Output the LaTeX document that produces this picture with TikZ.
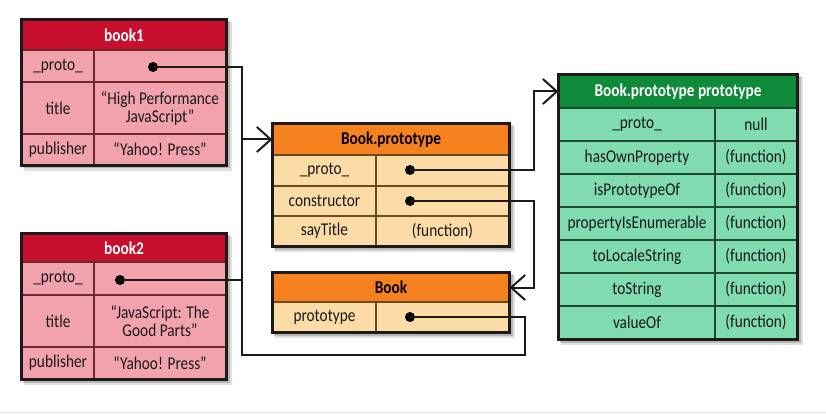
\documentclass[tikz,border=0pt]{standalone}
\usepackage{fontspec}
\setmainfont[FakeStretch=0.85]{Carlito}
\usetikzlibrary{arrows.meta}
\definecolor{redH}{HTML}{C8102E}
\definecolor{redF}{HTML}{F2A2AC}
\definecolor{redL}{HTML}{6E2A2A}
\definecolor{orH}{HTML}{F5821F}
\definecolor{orF}{HTML}{FCDCA6}
\definecolor{orL}{HTML}{6E4A1E}
\definecolor{grH}{HTML}{0E8A3A}
\definecolor{grF}{HTML}{80DCB0}
\definecolor{grL}{HTML}{1E4A30}
\definecolor{edge}{HTML}{1E1A1A}
\newcommand{\cellbox}[7]{\node[#1, minimum width={(#4-#2)*1pt}, minimum height={(#5-#3)*1pt}] (#6) at ({(#2+#4)/2},{(#3+#5)/2}) {#7};}
\newcommand{\shadowbox}[4]{%
  \fill[black, opacity=0.12] (#1+2,#2+2) rectangle (#3+6,#4+6);
  \fill[black, opacity=0.18] (#1+1,#2+1) rectangle (#3+3.5,#4+3.5);}
\begin{document}
\begin{tikzpicture}[x=1pt,y=-1pt,
  every node/.style={font=\fontsize{18}{18}\selectfont},
  cellbase/.style={line width=1.3pt, inner sep=0pt, align=center, text=black!90},
  rc/.style={cellbase, draw=redL, fill=redF},
  rh/.style={rc, fill=redH, text=white, font=\fontsize{18}{18}\selectfont\bfseries},
  oc/.style={cellbase, draw=orL, fill=orF},
  oh/.style={oc, fill=orH, text=black, font=\fontsize{18}{18}\selectfont\bfseries},
  gc/.style={cellbase, draw=grL, fill=grF},
  gh/.style={gc, fill=grH, text=white, font=\fontsize{18}{18}\selectfont\bfseries},
  frame/.style={draw=edge, line width=2.6pt},
  dot/.style={circle, fill=black, inner sep=0pt, minimum size=10pt},
  conn/.style={draw=edge, line width=2pt},
  arr/.style={conn, -{Straight Barb[length=14pt,width=25pt,line width=2pt]}}
]
\useasboundingbox[fill=white] (0,0) rectangle (826,414);
\draw[black!12, line width=0.8pt] (0,412.5) -- (826,412.5);

% ---------- shadows
\shadowbox{22}{20}{226}{165}
\shadowbox{22}{234}{226}{379}
\shadowbox{273}{124}{509}{246}
\shadowbox{273}{273}{509}{332}
\shadowbox{559}{75}{797}{339}

% ---------- book1
\cellbox{rh}{22}{20}{226}{50}{b1h}{book1}
\cellbox{rc}{22}{50}{94}{82}{b1k1}{\_proto\_}
\cellbox{rc}{94}{50}{226}{82}{b1v1}{}
\cellbox{rc}{22}{82}{94}{134}{b1k2}{title}
\cellbox{rc}{94}{82}{226}{134}{b1v2}{“High Performance\\JavaScript”}
\cellbox{rc}{22}{134}{94}{165}{b1k3}{publisher}
\cellbox{rc}{94}{134}{226}{165}{b1v3}{“Yahoo! Press”}
\draw[frame] (b1h.north west) rectangle (b1v3.south east);

% ---------- book2
\cellbox{rh}{22}{234}{226}{262}{b2h}{book2}
\cellbox{rc}{22}{262}{94}{295}{b2k1}{\_proto\_}
\cellbox{rc}{94}{262}{226}{295}{b2v1}{}
\cellbox{rc}{22}{295}{94}{347}{b2k2}{title}
\cellbox{rc}{94}{295}{226}{347}{b2v2}{“JavaScript: The\\Good Parts”}
\cellbox{rc}{22}{347}{94}{379}{b2k3}{publisher}
\cellbox{rc}{94}{347}{226}{379}{b2v3}{“Yahoo! Press”}
\draw[frame] (b2h.north west) rectangle (b2v3.south east);

% ---------- Book.prototype
\cellbox{oh}{273}{124}{509}{155}{bph}{Book.prototype}
\cellbox{oc}{273}{155}{376}{186}{bpk1}{\_proto\_}
\cellbox{oc}{376}{155}{509}{186}{bpv1}{}
\cellbox{oc}{273}{186}{376}{216}{bpk2}{constructor}
\cellbox{oc}{376}{186}{509}{216}{bpv2}{}
\cellbox{oc}{273}{216}{376}{246}{bpk3}{sayTitle}
\cellbox{oc}{376}{216}{509}{246}{bpv3}{(function)}
\draw[frame] (bph.north west) rectangle (bpv3.south east);

% ---------- Book
\cellbox{oh}{273}{273}{509}{302}{bkh}{Book}
\cellbox{oc}{273}{302}{376}{332}{bkk1}{prototype}
\cellbox{oc}{376}{302}{509}{332}{bkv1}{}
\draw[frame] (bkh.north west) rectangle (bkv1.south east);

% ---------- Book.prototype prototype
\cellbox{gh}{559}{75}{797}{108}{gph}{Book.prototype prototype}
\cellbox{gc}{559}{108}{715}{141}{gk1}{\_proto\_}
\cellbox{gc}{715}{108}{797}{141}{gv1}{null}
\cellbox{gc}{559}{141}{715}{174}{gk2}{hasOwnProperty}
\cellbox{gc}{715}{141}{797}{174}{gv2}{(function)}
\cellbox{gc}{559}{174}{715}{207}{gk3}{isPrototypeOf}
\cellbox{gc}{715}{174}{797}{207}{gv3}{(function)}
\cellbox{gc}{559}{207}{715}{240}{gk4}{propertyIsEnumerable}
\cellbox{gc}{715}{207}{797}{240}{gv4}{(function)}
\cellbox{gc}{559}{240}{715}{273}{gk5}{toLocaleString}
\cellbox{gc}{715}{240}{797}{273}{gv5}{(function)}
\cellbox{gc}{559}{273}{715}{306}{gk6}{toString}
\cellbox{gc}{715}{273}{797}{306}{gv6}{(function)}
\cellbox{gc}{559}{306}{715}{339}{gk7}{valueOf}
\cellbox{gc}{715}{306}{797}{339}{gv7}{(function)}
\draw[frame] (gph.north west) rectangle (gv7.south east);

% ---------- dots
\node[dot] (d1) at (153,67) {};
\node[dot] (d2) at (120,280) {};
\node[dot] (d3) at (410,170) {};
\node[dot] (d4) at (410,201) {};
\node[dot] (d5) at (410,317) {};

% ---------- routing points
\coordinate (bus) at (242,139.5);
\coordinate (lowR) at (525,355);
\coordinate (lowL) at (242,355);
\coordinate (up) at (534,91.5);
\coordinate (dn) at (534,287.5);

% ---------- connectors
\draw[arr] (d1.center) -| (bus) -- (bph.west);
\draw[conn] (d2.center) -| (bus);
\draw[conn] (d5.center) -| (lowR) -- (lowL) -- (bus);
\draw[arr] (d3.center) -| (up) -- (gph.west);
\draw[arr] (d4.center) -| (dn) -- (bkh.east);
\end{tikzpicture}
\end{document}
